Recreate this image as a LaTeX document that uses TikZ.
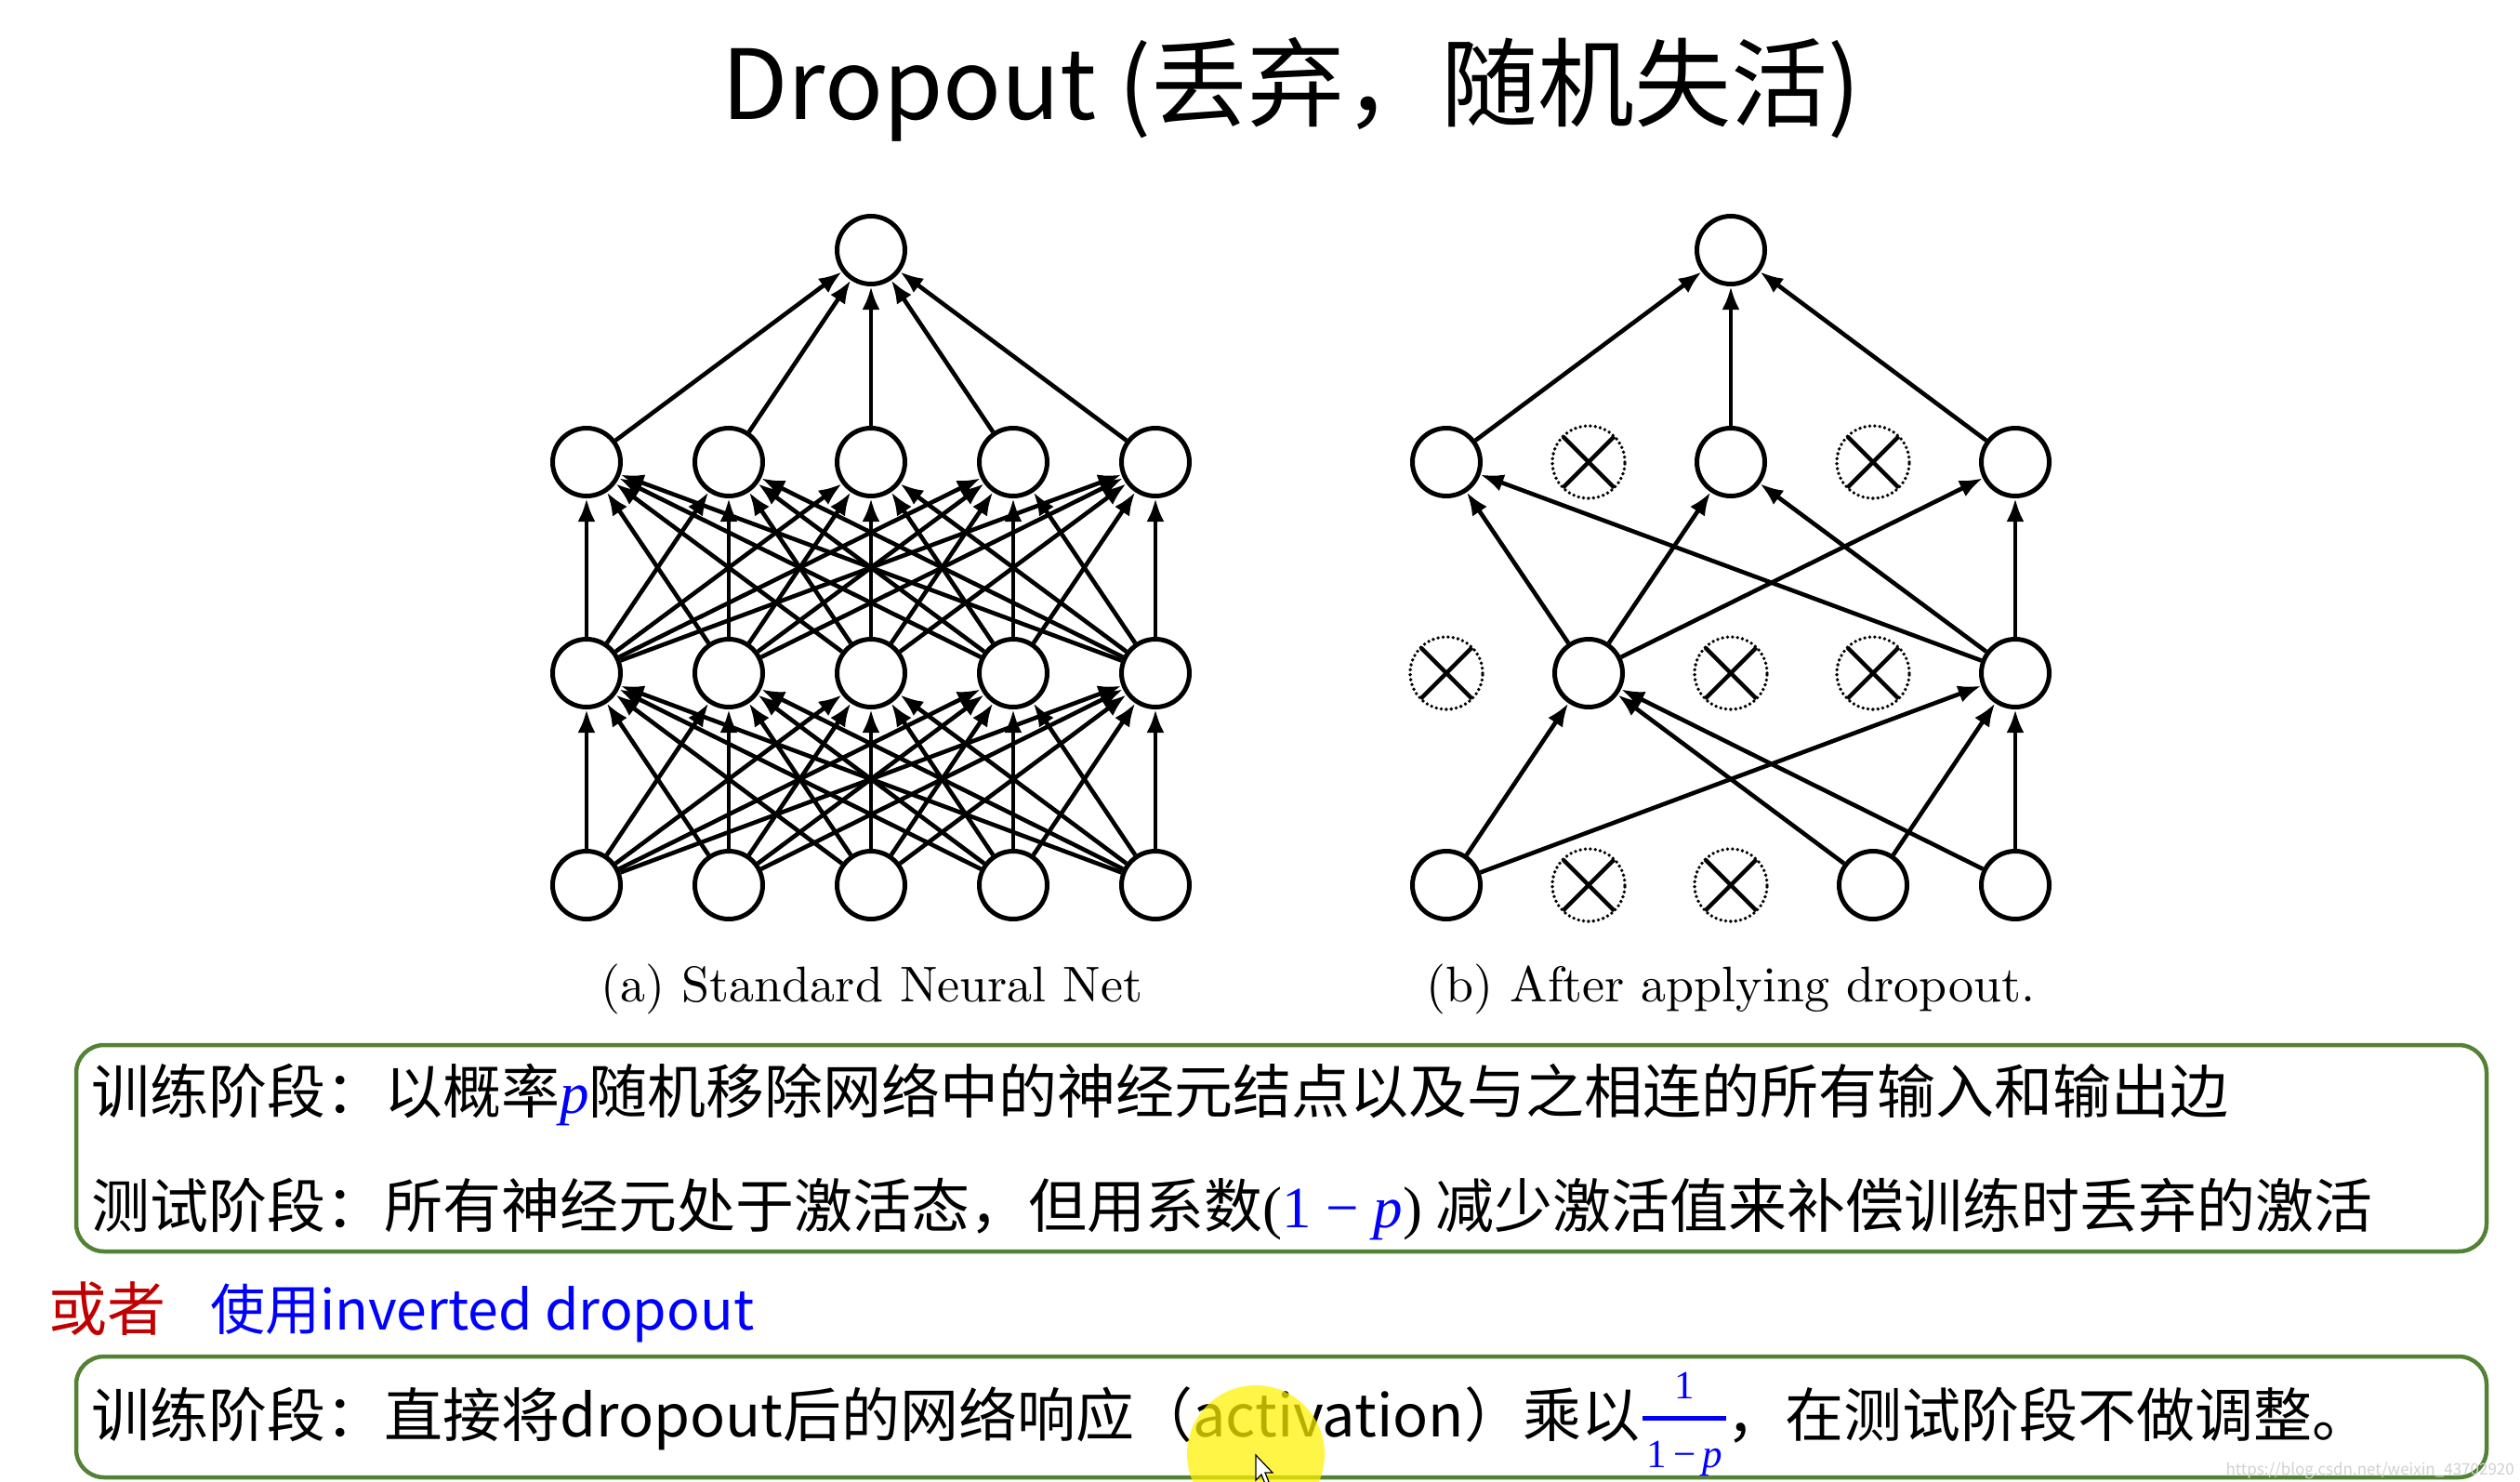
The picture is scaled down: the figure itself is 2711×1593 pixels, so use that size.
\documentclass[tikz,border=0pt]{standalone}
\usepackage{fontspec}
\usetikzlibrary{arrows.meta,calc}
\newfontfamily\cjk{Noto Sans CJK SC}
\newfontfamily\serifm{Liberation Serif}
\newfontfamily\capfont{lmroman10-regular.otf}
\definecolor{boxgreen}{RGB}{84,130,53}
\definecolor{redt}{RGB}{192,0,0}
\definecolor{bluet}{RGB}{0,0,255}
\newcommand\txtfont{\cjk\fontsize{63}{70}\selectfont}
\begin{document}
\begin{tikzpicture}[x=1pt,y=-1pt,
  neuron/.style={circle, draw, line width=5pt, minimum size=73pt, inner sep=0pt, fill=white},
  dropn/.style={circle, draw, line width=3.8pt, dash pattern=on 0pt off 5.4pt, line cap=round, minimum size=78pt, inner sep=0pt,
    path picture={\draw[line width=4.5pt, solid, line cap=butt]
      (path picture bounding box.north west) -- (path picture bounding box.south east)
      (path picture bounding box.north east) -- (path picture bounding box.south west);}},
  conn/.style={line width=4.6pt, -{Latex[length=25pt,width=19pt]}},
  txt/.style={font=\txtfont, inner sep=0pt},
  capt/.style={font=\capfont\fontsize{54}{60}\selectfont, inner sep=0pt},
  fractxt/.style={font=\serifm\fontsize{43}{43}\selectfont, text=bluet, inner sep=0pt},
  greenbox/.style={draw=boxgreen, line width=4.5pt, rounded corners=30pt, inner sep=0pt}
]
\fill[white] (0,0) rectangle (2711,1593);
\useasboundingbox (0,0) rectangle (2711,1593);

% title
\node[font=\cjk\fontsize{104}{110}\selectfont, inner sep=0pt, anchor=base] (title) at (1389,128) {Dropout (丢弃，随机失活)};

% ---------- network (a) ----------
\foreach \i in {1,...,5} {
  \node[neuron] (a0-\i) at ({937+153*(\i-3)},952) {};
  \node[neuron] (a1-\i) at ({937+153*(\i-3)},724) {};
  \node[neuron] (a2-\i) at ({937+153*(\i-3)},497) {};
}
\node[neuron] (atop) at (937,269) {};
\foreach \i in {1,...,5} {
  \foreach \j in {1,...,5} {
    \draw[conn] (a0-\i) -- (a1-\j);
    \draw[conn] (a1-\i) -- (a2-\j);
  }
  \draw[conn] (a2-\i) -- (atop);
}
\node[capt, anchor=base] (capa) at (938,1077) {(a) Standard Neural Net};

% ---------- network (b) ----------
\node[neuron] (b0-1) at (1556,952) {};
\node[dropn]  (b0-2) at (1709,952) {};
\node[dropn]  (b0-3) at (1862,952) {};
\node[neuron] (b0-4) at (2015,952) {};
\node[neuron] (b0-5) at (2168,952) {};
\node[dropn]  (b1-1) at (1556,724) {};
\node[neuron] (b1-2) at (1709,724) {};
\node[dropn]  (b1-3) at (1862,724) {};
\node[dropn]  (b1-4) at (2015,724) {};
\node[neuron] (b1-5) at (2168,724) {};
\node[neuron] (b2-1) at (1556,497) {};
\node[dropn]  (b2-2) at (1709,497) {};
\node[neuron] (b2-3) at (1862,497) {};
\node[dropn]  (b2-4) at (2015,497) {};
\node[neuron] (b2-5) at (2168,497) {};
\node[neuron] (btop) at (1862,269) {};
\foreach \s in {1,4,5} {
  \draw[conn] (b0-\s) -- (b1-2);
  \draw[conn] (b0-\s) -- (b1-5);
}
\foreach \s in {2,5} {
  \foreach \t in {1,3,5} {
    \draw[conn] (b1-\s) -- (b2-\t);
  }
}
\foreach \s in {1,3,5} {
  \draw[conn] (b2-\s) -- (btop);
}
\node[capt, anchor=base] (capb) at (1862,1077) {(b) After applying dropout.};

% ---------- text box 1 ----------
\node[greenbox, minimum width=2593pt, minimum height=222pt] (box1) at (1378.5,1235) {};
\node[txt, anchor=base west] (l1) at (98,1197) {训练阶段：以概率{\serifm\itshape\color{bluet}p}随机移除网络中的神经元结点以及与之相连的所有输入和输出边};
\node[txt, anchor=base west] (l2) at (98,1320) {测试阶段：所有神经元处于激活态，但用系数{\serifm(\textcolor{bluet}{1 − \itshape p})} 减少激活值来补偿训练时丢弃的激活};

% ---------- or ----------
\node[txt, anchor=base west, text=redt] (orr) at (52,1431) {或者};
\node[txt, font=\cjk\fontsize{59}{66}\selectfont, anchor=base west, text=bluet] (inv) at (226,1430) {使用inverted dropout};

% ---------- text box 2 ----------
\node[greenbox, minimum width=2593pt, minimum height=130pt] (box2) at (1378.5,1524) {};
\node[txt, anchor=base west] (l3a) at (98,1545) {训练阶段：直接将dropout后的网络响应（activation）乘以};
\node[fill=bluet, inner sep=0pt, minimum width=90pt, minimum height=5pt, anchor=west] (fbar) at ($(l3a.base east)+(3,-19.5)$) {};
\node[fractxt, anchor=base] (fnum) at ($(fbar.north)+(0,-18)$) {1};
\node[fractxt, anchor=base] (fden) at ($(fbar.south)+(0,50)$) {1\,−\,{\itshape p}};
\node[txt, anchor=base west] (l3b) at (fbar.east |- l3a.base) {，在测试阶段不做调整。};

% cursor highlight
\fill[yellow, fill opacity=0.72] (1351,1564) circle (74);
\draw[fill=white, line width=1.2pt] (1351,1565) -- (1351,1592) -- (1357,1586) -- (1361,1596) -- (1365,1594) -- (1361,1584) -- (1369,1584) -- cycle;

% watermark
\node[font=\cjk\fontsize{17}{17}\selectfont, text=black!18, inner sep=0pt, anchor=base east] (wm) at (2705,1586) {https://blog.csdn.net/weixin\_43702920};
\end{tikzpicture}
\end{document}
